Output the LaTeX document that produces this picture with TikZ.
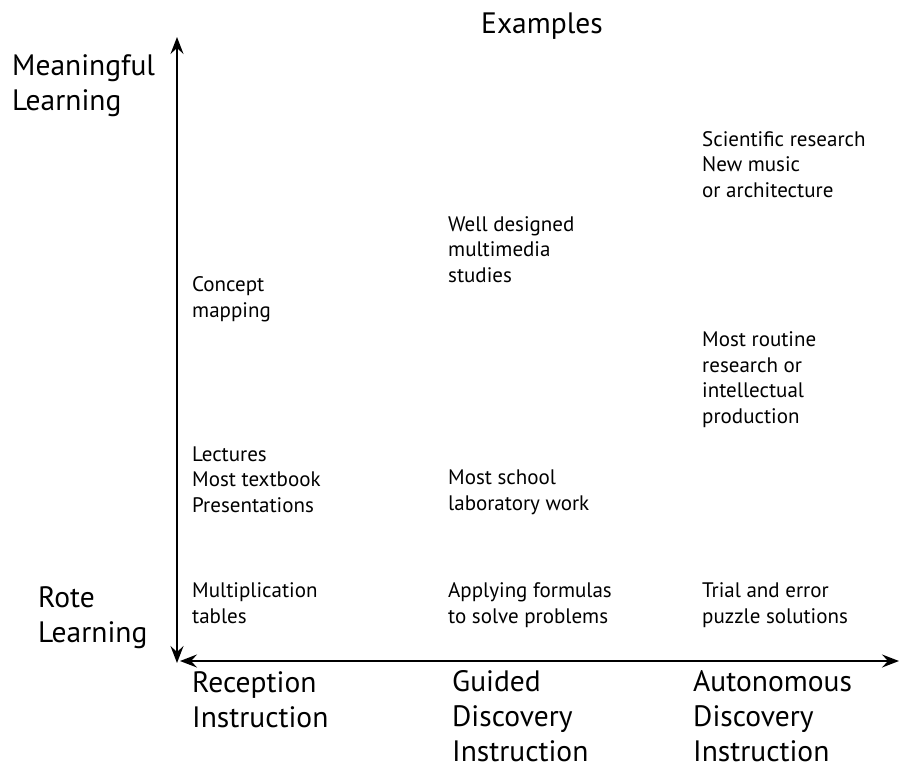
\documentclass[tikz,border=0pt]{standalone}
\usepackage{fontspec}
\setmainfont{PT Sans}
\usetikzlibrary{arrows.meta}
\begin{document}
\begin{tikzpicture}[x=1pt,y=-1pt,
  small/.style={font=\fontsize{21}{25.5}\selectfont, align=left, anchor=base west, inner sep=0pt},
  big/.style={font=\fontsize{29.5}{35}\selectfont, align=left, anchor=base west, inner sep=0pt},
  axisline/.style={line width=1.8pt, {Stealth[length=17pt,width=13pt,inset=6pt]}-{Stealth[length=17pt,width=13pt,inset=6pt]}}]
\useasboundingbox (0,0) rectangle (899,769);
\fill[white] (0,0) rectangle (899,769);
% axes
\coordinate (vtop) at (177,37);
\coordinate (vbot) at (177,663);
\coordinate (hleft) at (180,661);
\coordinate (hright) at (899,661);
\draw[axisline] (vbot) -- (vtop);
\draw[axisline] (hleft) -- (hright);
% titles (anchor = baseline of the last line)
\node[big, anchor=base] (examples) at (542,33) {Examples};
\node[big] (meaningful) at (12,110) {Meaningful\\Learning};
\node[big] (rote) at (38,642) {Rote\\Learning};
% column 1
\node[small] (concept) at (192,317) {Concept\\mapping};
\node[small] (lectures) at (192,512) {Lectures\\Most textbook\\Presentations};
\node[small] (mult) at (192,623) {Multiplication\\tables};
% column 2
\node[small] (welldesigned) at (448,282) {Well designed\\multimedia\\studies};
\node[small] (school) at (448,510) {Most school\\laboratory work};
\node[small] (applying) at (448,623) {Applying formulas\\to solve problems};
% column 3
\node[small] (scientific) at (702,197) {Scientific research\\New music\\or architecture};
\node[small] (routine) at (702,423) {Most routine\\research or\\intellectual\\production};
\node[small] (trial) at (702,623) {Trial and error\\puzzle solutions};
% bottom labels
\node[big] (reception) at (192,727) {Reception\\Instruction};
\node[big] (guided) at (452,761) {Guided\\Discovery\\Instruction};
\node[big] (autonomous) at (693,761) {Autonomous\\Discovery\\Instruction};
\end{tikzpicture}
\end{document}
